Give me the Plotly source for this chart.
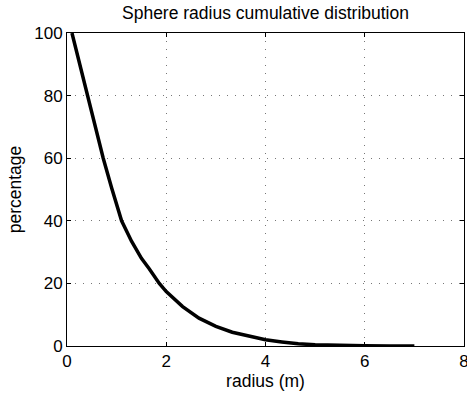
import plotly.graph_objects as go

radius = [0.1, 0.25, 0.43, 0.58, 0.73, 0.9, 1.1, 1.3, 1.5, 1.66, 1.86, 2.0, 2.33,
          2.66, 3.0, 3.33, 3.66, 4.0, 4.33, 4.66, 5.0, 5.5, 6.0, 6.5, 7.0]
percentage = [100, 90.5, 80, 70, 60, 50.5, 40, 33.5, 28, 24.6, 20, 17.4, 12.6,
              8.9, 6.3, 4.4, 3.1, 2.0, 1.3, 0.7, 0.4, 0.15, 0.05, 0.02, 0.0]
x_ticks = [0, 2, 4, 6, 8]
y_ticks = [0, 20, 40, 60, 80, 100]

FONT = "Liberation Sans, Arial, Helvetica, sans-serif"

fig = go.Figure()
fig.add_trace(go.Scatter(x=radius, y=percentage, mode="lines",
                         line=dict(color="black", width=3.5), cliponaxis=True,
                         showlegend=False, hoverinfo="skip"))

axis_common = dict(
    showline=True, linecolor="black", linewidth=1, mirror="ticks",
    ticks="inside", ticklen=4, tickcolor="black", tickwidth=1,
    showgrid=True, gridcolor="#777", gridwidth=1, griddash="1px,7px",
    zeroline=False, tickfont=dict(family=FONT, size=17, color="black"),
    automargin=False, ticklabeloverflow="allow",
)

fig.update_xaxes(range=[0, 8], tickvals=x_ticks, ticktext=[str(v) for v in x_ticks],
                 title=dict(text="radius (m)", font=dict(family=FONT, size=17.5, color="black"),
                            standoff=2),
                 ticklabelstandoff=0, **axis_common)
fig.update_yaxes(range=[0, 100], tickvals=y_ticks, ticktext=[str(v) for v in y_ticks],
                 title=dict(text="percentage", font=dict(family=FONT, size=17.5, color="black"),
                            standoff=8),
                 ticklabelstandoff=0, **axis_common)

fig.update_layout(
    width=467, height=394,
    margin=dict(l=67, r=3, t=33, b=48),
    paper_bgcolor="white", plot_bgcolor="white",
    title=dict(text="Sphere radius cumulative distribution", x=0.5685, xanchor="center",
               y=0.967, yanchor="middle",
               font=dict(family=FONT, size=17.5, color="black")),
)

fig.write_html("out.html",
               config={"displayModeBar": False, "staticPlot": True},
               post_script="document.body.style.margin='0';document.body.style.overflow='hidden';")
